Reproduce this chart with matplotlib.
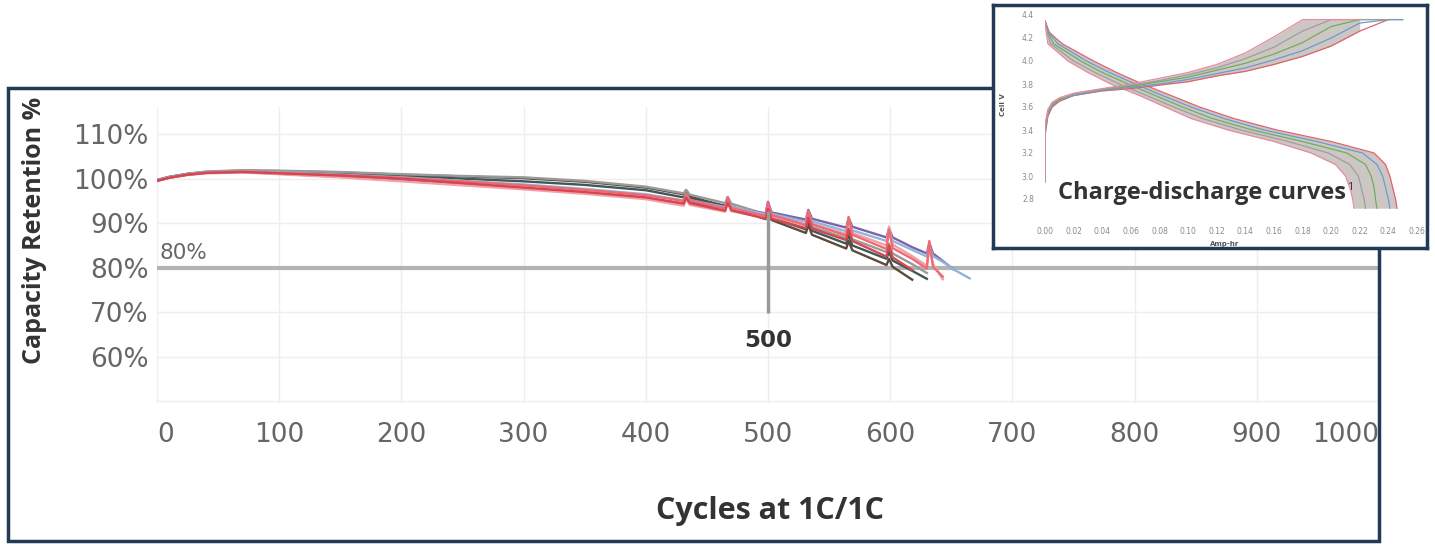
"""Capacity retention vs cycles with a charge-discharge inset."""

import matplotlib

matplotlib.use("Agg")
import matplotlib.pyplot as plt
import numpy as np
from matplotlib.patches import Rectangle

W, H = 1435, 544
NAVY = "#233a57"

# ---- main chart data -------------------------------------------------------
CYCLES = [0, 10, 25, 40, 70, 100, 150, 200, 250, 300, 350, 400,
          431, 433, 436, 465, 467, 470, 498, 500, 503, 531, 533, 536,
          564, 566, 569, 597, 599, 602, 618, 630, 632, 635, 643, 652, 665]

BROWN = [99.7, 100.4, 101.1, 101.5, 101.8, 101.7, 101.4, 100.9, 100.5, 100.1, 99.3, 98.0,
         96.5, 97.3, 96.0, 93.8, 95.2, 93.6, 90.9, 92.6, 90.7, 87.8, 89.6, 87.4,
         84.3, 86.0, 83.9, 80.6, 82.0, 80.2, 77.3, None, None, None, None, None, None]
SLATE = [99.6, 100.3, 101.0, 101.4, 101.7, 101.5, 101.1, 100.6, 100.0, 99.4, 98.6, 97.4,
         95.8, 96.8, 95.6, 93.9, 95.4, 93.8, 91.4, 93.4, 91.2, 88.6, 90.5, 88.3,
         85.4, 87.4, 85.0, 82.0, 83.6, 81.6, 79.3, 77.5, None, None, None, None, None]
GRAY = [99.7, 100.4, 101.1, 101.6, 101.9, 101.8, 101.5, 101.0, 100.6, 100.3, 99.5, 98.2,
        96.7, 97.5, 96.4, 94.5, 95.9, 94.4, 92.0, 94.0, 92.0, 89.5, 91.6, 89.2,
        86.6, 88.8, 86.4, 83.5, 85.4, 83.2, 80.8, 78.8, None, None, None, None, None]
RED = [99.5, 100.2, 100.9, 101.3, 101.5, 101.2, 100.7, 100.0, 99.0, 98.0, 97.0, 95.8,
       94.4, 95.7, 94.5, 92.8, 94.6, 92.9, 91.0, 93.2, 91.0, 88.9, 91.2, 88.8,
       86.2, 88.6, 86.0, 82.5, 85.0, 82.3, 79.5, None, None, None, None, None, None]
PINK = [99.5, 100.2, 100.8, 101.2, 101.4, 101.0, 100.3, 99.4, 98.5, 97.6, 96.6, 95.4,
        93.9, 95.4, 94.1, 92.6, 94.9, 92.7, 91.2, 94.0, 91.4, 89.6, 92.6, 89.8,
        87.6, 91.0, 87.8, 85.0, 89.2, 85.2, 82.6, 80.4, 84.6, 80.8, 77.4, None, None]
LIGHT_RED = [99.5, 100.2, 100.9, 101.3, 101.6, 101.3, 100.8, 100.2, 99.4, 98.5, 97.5, 96.3,
             95.0, 96.5, 95.2, 93.3, 95.8, 93.4, 91.6, 94.6, 91.8, 89.6, 92.8, 89.8,
             87.2, 91.4, 87.4, 84.2, 88.6, 84.4, 82.0, 79.8, 86.0, 80.2, 78.0, None, None]
PURPLE = [99.6, 100.3, 100.9, 101.3, 101.5, 101.1, 100.4, 99.6, 98.7, 97.8, 96.8, 95.6,
          94.4, 96.1, 94.7, 93.4, 95.6, 93.5, 92.2, 94.8, 92.4, 90.8, 93.0, 91.0,
          89.0, 91.2, 89.2, 86.8, 88.8, 86.8, 84.6, 83.2, 85.6, 83.2, 81.5, 79.6, None]
LIGHT_BLUE = [99.6, 100.3, 101.0, 101.4, 101.6, 101.4, 100.9, 100.3, 99.5, 98.7, 97.7, 96.5,
              95.1, 96.6, 95.2, 93.6, 95.5, 93.7, 92.0, 94.4, 92.1, 90.3, 92.6, 90.4,
              88.2, 90.6, 88.4, 86.0, 88.0, 86.0, 84.0, 82.5, 85.0, 82.6, 81.3, 79.6, 77.6]

SERIES = [BROWN, SLATE, GRAY, PURPLE, LIGHT_BLUE, PINK, LIGHT_RED, RED]
SERIES_COLORS = ["#5e4a3b", "#3e5858", "#9a9a9a", "#7e62a8", "#8fb5dc",
                 "#f2a0a5", "#ee6b73", "#d64550"]

X_TICKS = [0, 100, 200, 300, 400, 500, 600, 700, 800, 900, 1000]
Y_TICKS = [50, 60, 70, 80, 90, 100, 110]
Y_TICK_LABELS = ["", "60%", "70%", "80%", "90%", "100%", "110%"]
REFERENCE_LEVEL = 80
MARKED_CYCLE = 500
MARKED_RANGE = (69.8, 92.8)

# ---- inset data ------------------------------------------------------------
DISCHARGE_V = [4.35, 4.25, 4.15, 4.0, 3.9, 3.8, 3.7, 3.6, 3.5, 3.4, 3.3, 3.2,
               3.1, 3.0, 2.9, 2.8, 2.72]
DISCHARGE_AH_1 = [0.000, 0.003, 0.012, 0.034, 0.050, 0.068, 0.088, 0.108, 0.132, 0.162,
                  0.200, 0.230, 0.238, 0.241, 0.243, 0.245, 0.246]
DISCHARGE_AH_2 = [0.000, 0.0025, 0.009, 0.029, 0.045, 0.063, 0.082, 0.102, 0.125, 0.153,
                  0.190, 0.222, 0.232, 0.236, 0.238, 0.240, 0.241]
DISCHARGE_AH_3 = [0.000, 0.002, 0.006, 0.025, 0.040, 0.058, 0.077, 0.096, 0.117, 0.145,
                  0.180, 0.211, 0.224, 0.228, 0.230, 0.231, 0.232]
DISCHARGE_AH_4 = [0.000, 0.0015, 0.004, 0.020, 0.035, 0.052, 0.071, 0.090, 0.110, 0.137,
                  0.170, 0.198, 0.213, 0.219, 0.221, 0.223, 0.224]
DISCHARGE_AH_5 = [0.000, 0.0008, 0.002, 0.016, 0.030, 0.046, 0.066, 0.084, 0.102, 0.128,
                  0.160, 0.186, 0.203, 0.210, 0.213, 0.215, 0.216]

CHARGE_AH = [0.0, 0.0, 0.002, 0.005, 0.01, 0.02, 0.04, 0.06, 0.08, 0.10, 0.12, 0.14,
             0.16, 0.18, 0.20, 0.22, 0.24, 0.25]
CHARGE_V_1 = [2.95, 3.35, 3.52, 3.60, 3.65, 3.70, 3.74, 3.76, 3.79, 3.82, 3.87, 3.91,
              3.97, 4.04, 4.13, 4.26, 4.36, 4.36]
CHARGE_V_2 = [2.95, 3.38, 3.54, 3.61, 3.66, 3.70, 3.745, 3.77, 3.80, 3.84, 3.89, 3.94,
              4.01, 4.09, 4.20, 4.33, 4.36, 4.36]
CHARGE_V_3 = [2.95, 3.40, 3.55, 3.62, 3.66, 3.71, 3.75, 3.78, 3.82, 3.86, 3.92, 3.98,
              4.06, 4.16, 4.30, 4.36, 4.36, None]
CHARGE_V_4 = [2.95, 3.42, 3.56, 3.63, 3.67, 3.71, 3.755, 3.79, 3.83, 3.88, 3.94, 4.02,
              4.12, 4.26, 4.36, 4.36, 4.36, None]
CHARGE_V_5 = [2.95, 3.45, 3.58, 3.64, 3.68, 3.72, 3.76, 3.80, 3.85, 3.90, 3.97, 4.07,
              4.21, 4.36, 4.36, 4.36, None, None]

INSET_COLORS = ["#e0636b", "#6a9bd1", "#6fae5a", "#9e9e9e", "#e88aa0"]
INSET_X_TICKS = [0.00, 0.02, 0.04, 0.06, 0.08, 0.10, 0.12, 0.14, 0.16, 0.18,
                 0.20, 0.22, 0.24, 0.26]
INSET_Y_TICKS = [2.8, 3.0, 3.2, 3.4, 3.6, 3.8, 4.0, 4.2, 4.4]


def as_array(values):
    """Turn a list with gaps (None) into a float array with NaN."""
    return np.array([np.nan if v is None else v for v in values], dtype=float)


def rect_from_px(left, top, right, bottom):
    """Figure-fraction [l, b, w, h] from pixel edges."""
    return [left / W, 1 - bottom / H, (right - left) / W, (bottom - top) / H]


def draw_main(fig):
    ax = fig.add_axes(rect_from_px(157, 107, 1379, 403))
    ax.set_xlim(0, 1000)
    ax.set_ylim(49.6, 116.1)

    for values, color in zip(SERIES, SERIES_COLORS):
        ax.plot(CYCLES, as_array(values), color=color, lw=1.7, zorder=3)

    ax.hlines(REFERENCE_LEVEL, 0, 1000, color="#b3b3b3", lw=3, zorder=2)
    ax.text(2, 83.3, "80%", ha="left", va="center", fontsize=15.5, color="#666666")
    ax.vlines(MARKED_CYCLE, *MARKED_RANGE, color="#999999", lw=2.5, zorder=4)
    ax.text(MARKED_CYCLE, 63.7, "500", ha="center", va="center", fontsize=16.5,
            fontweight="bold", color="#333333")

    ax.set_xticks(X_TICKS)
    ax.set_xticklabels([str(t) for t in X_TICKS])
    ax.set_yticks(Y_TICKS)
    ax.set_yticklabels(Y_TICK_LABELS)
    ax.tick_params(axis="both", length=0, labelsize=19, labelcolor="#666666")
    ax.tick_params(axis="x", pad=14)
    ax.tick_params(axis="y", pad=6)
    labels = ax.get_xticklabels()
    labels[0].set_ha("left")
    labels[-1].set_ha("right")

    ax.grid(True, color="#eeeeee", lw=1)
    ax.set_axisbelow(True)
    for spine in ax.spines.values():
        spine.set_visible(False)
    ax.patch.set_alpha(0)

    fig.text(35 / W, 1 - 230 / H, "Capacity Retention %", rotation=90,
             ha="center", va="center", fontsize=18, fontweight="bold",
             family="Open Sans", color="#333333")
    fig.text(770 / W, 1 - 511 / H, "Cycles at 1C/1C", ha="center", va="center",
             fontsize=22, fontweight="bold", family="Open Sans", color="#333333")

    fig.add_artist(Rectangle((8 / W, 1 - 541 / H), 1371 / W, 453 / H,
                             transform=fig.transFigure, fill=False,
                             edgecolor=NAVY, lw=2.5, zorder=2))


def draw_inset(fig):
    box = fig.add_axes(rect_from_px(993, 5, 1427, 248), zorder=5)
    box.set_xticks([])
    box.set_yticks([])
    box.set_facecolor("white")
    for spine in box.spines.values():
        spine.set_color(NAVY)
        spine.set_linewidth(2.5)

    ax = fig.add_axes(rect_from_px(1045, 12.7, 1417, 210.5), zorder=6)
    ax.set_xlim(0, 0.26)
    ax.set_ylim(2.7, 4.42)
    ax.patch.set_alpha(0)

    discharge = [DISCHARGE_AH_1, DISCHARGE_AH_2, DISCHARGE_AH_3,
                 DISCHARGE_AH_4, DISCHARGE_AH_5]
    charge = [CHARGE_V_1, CHARGE_V_2, CHARGE_V_3, CHARGE_V_4, CHARGE_V_5]

    ax.fill_betweenx(DISCHARGE_V, DISCHARGE_AH_5, DISCHARGE_AH_1,
                     color="#cdc7c4", lw=0, zorder=1)
    ax.fill_between(CHARGE_AH, as_array(CHARGE_V_1), as_array(CHARGE_V_5),
                    color="#cdc7c4", lw=0, zorder=1)
    for ah, color in zip(discharge, INSET_COLORS):
        ax.plot(ah, DISCHARGE_V, color=color, lw=0.9, zorder=2)
    for volts, color in zip(charge, INSET_COLORS):
        ax.plot(CHARGE_AH, as_array(volts), color=color, lw=0.9, zorder=2)

    ax.set_xticks(INSET_X_TICKS)
    ax.set_xticklabels([f"{t:.2f}" for t in INSET_X_TICKS])
    ax.set_yticks(INSET_Y_TICKS)
    ax.set_yticklabels([f"{t:.1f}" for t in INSET_Y_TICKS])
    ax.tick_params(axis="both", length=0, labelsize=5.5, labelcolor="#8a8a8a")
    ax.tick_params(axis="x", pad=12)
    ax.tick_params(axis="y", pad=8)
    for spine in ax.spines.values():
        spine.set_visible(False)

    fig.text(1003 / W, 1 - 105 / H, "Cell V", rotation=90, ha="center",
             va="center", fontsize=5, fontweight="bold", color="#555555", zorder=7)
    fig.text(1225 / W, 1 - 244 / H, "Amp-hr", ha="center", va="center",
             fontsize=5, fontweight="bold", color="#555555", zorder=7)
    title = fig.text(1058 / W, 1 - 193 / H, "Charge-discharge curves", ha="left",
                     va="center", fontsize=17, fontweight="bold", family="Open Sans",
                     color="#333333", zorder=7)
    fig.canvas.draw()
    bbox = title.get_window_extent()
    fig.text(bbox.x1 / W + 1 / W, (bbox.y1 - 7) / H, "1", ha="left", va="center",
             fontsize=8, family="Open Sans", color="#333333", zorder=8)


def main():
    fig = plt.figure(figsize=(W / 100, H / 100), dpi=100)
    fig.patch.set_facecolor("white")
    draw_main(fig)
    draw_inset(fig)
    fig.savefig("out.png", dpi=100)
    plt.close(fig)


if __name__ == "__main__":
    main()
